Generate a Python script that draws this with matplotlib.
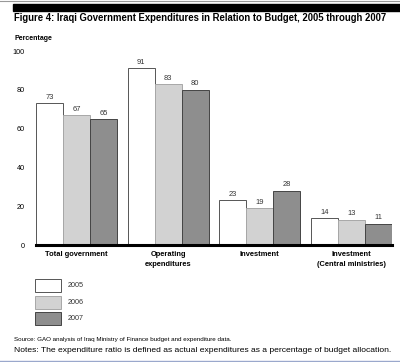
import matplotlib.pyplot as plt
import matplotlib.patches as mpatches
import numpy as np

plt.rcParams['font.family'] = ['Liberation Sans', 'DejaVu Sans']

# data
categories = ['Total government', 'Operating\nexpenditures', 'Investment',
              'Investment\n(Central ministries)']
years = ['2005', '2006', '2007']
v2005 = [73, 91, 23, 14]
v2006 = [67, 83, 19, 13]
v2007 = [65, 80, 28, 11]

face = ['white', '#d2d2d2', '#8e8e8e']
edge = ['#555555', '#a8a8a8', '#444444']

fig = plt.figure(figsize=(4, 3.62), dpi=100)
H = 362.0

def fy(px):
    return 1 - px / H

# header decorations
fig.add_artist(plt.Line2D([0, 1], [fy(1), fy(1)], color='#999999', lw=0.8))
fig.add_artist(mpatches.Rectangle((13 / 400, fy(10.5)), 1, 6.5 / H,
                                  transform=fig.transFigure, color='black'))
fig.text(14 / 400, fy(18), 'Figure 4: Iraqi Government Expenditures in Relation to Budget, 2005 through 2007',
         fontsize=6.85, fontweight='bold', va='center', ha='left')
fig.text(14 / 400, fy(39), 'Percentage', fontsize=5, fontweight='bold', va='center')

ax = fig.add_axes([36 / 400, fy(245), (392 - 36) / 400, (245 - 51) / H])
x = np.arange(len(categories)) * 3.4
w = 1.0
for i, vals in enumerate([v2005, v2006, v2007]):
    bars = ax.bar(x + (i - 1) * w, vals, w, color=face[i], edgecolor=edge[i],
                  linewidth=0.7, zorder=2)
    for b, v in zip(bars, vals):
        ax.text(b.get_x() + b.get_width() / 2, v + 1.2, str(v), ha='center',
                va='bottom', fontsize=5.4, color='#333333')

ax.set_xlim(x[0] - 1.5, x[-1] + 1.5)
ax.set_ylim(0, 100)
ax.set_yticks(range(0, 101, 20))
ax.tick_params(axis='y', length=0, labelsize=5.2, pad=8)
ax.tick_params(axis='x', length=0, labelsize=5.4, pad=4)
ax.set_xticks(x)
ax.set_xticklabels(categories, fontweight='bold', linespacing=1.75)
for s in ['left', 'right', 'top']:
    ax.spines[s].set_visible(False)
ax.spines['bottom'].set_linewidth(2.2)
ax.spines['bottom'].set_zorder(3)

# legend boxes
for i, yr in enumerate(years):
    top = 279 + i * 16.5
    fig.add_artist(mpatches.Rectangle((35 / 400, fy(top + 13)), 26 / 400, 13 / H,
                                      transform=fig.transFigure, facecolor=face[i],
                                      edgecolor=edge[i], linewidth=0.7))
    fig.text(68 / 400, fy(top + 6.5), yr, fontsize=5.2, va='center', color='#333333')

fig.text(14 / 400, fy(340), 'Source: GAO analysis of Iraq Ministry of Finance budget and expenditure data.',
         fontsize=4.5, va='center')
fig.text(14 / 400, fy(351), 'Notes: The expenditure ratio is defined as actual expenditures as a percentage of budget allocation.',
         fontsize=6.1, va='center')
fig.add_artist(plt.Line2D([0, 1], [fy(361), fy(361)], color='#9aa8cc', lw=1))

fig.savefig('out.png', dpi=100)
